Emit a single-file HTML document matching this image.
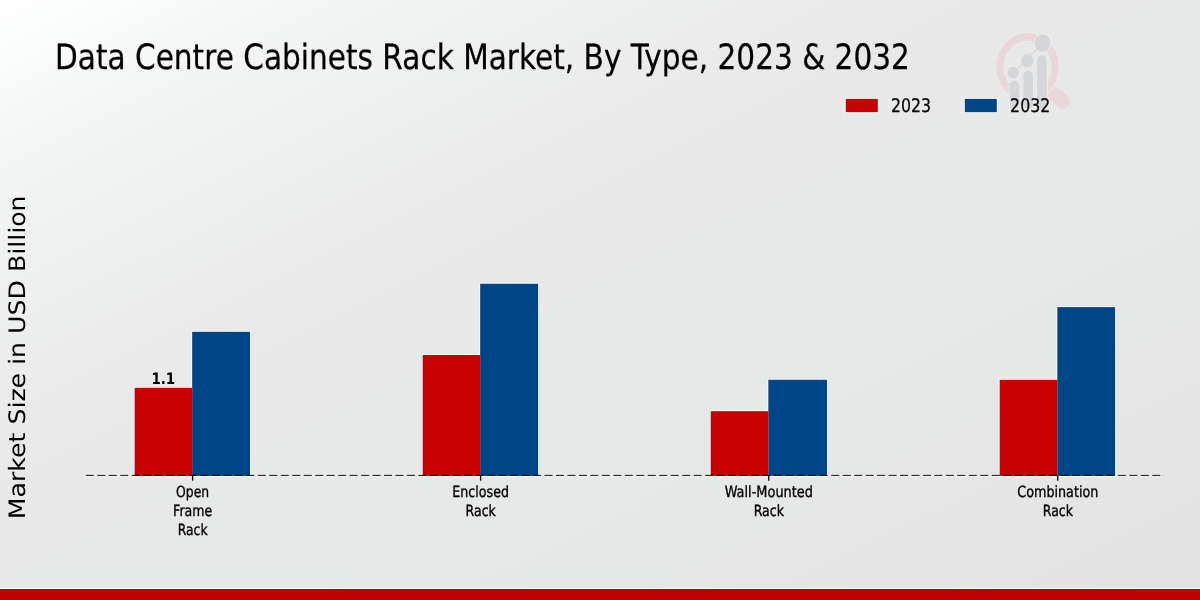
<!DOCTYPE html>
<html lang="en">
<head>
<meta charset="utf-8">
<title>Data Centre Cabinets Rack Market, By Type, 2023 &amp; 2032</title>
<style>
html,body{margin:0;padding:0;background:#e8e8e8;}
body{width:1200px;height:600px;overflow:hidden;position:relative;}
svg{position:absolute;left:0;top:0;display:block;}
text{font-family:'DejaVu Sans','Liberation Sans',sans-serif;text-rendering:geometricPrecision;}
</style>
</head>
<body>
<svg width="1200" height="600" viewBox="0 0 1200 600">
<defs>
<linearGradient id="bg" gradientUnits="objectBoundingBox" x1="0" y1="0" x2="1" y2="1">
<stop offset="0" stop-color="#ffffff"/>
<stop offset="0.033" stop-color="#fcfdfd"/>
<stop offset="0.1" stop-color="#f6f7f7"/>
<stop offset="0.158" stop-color="#f2f3f3"/>
<stop offset="0.29" stop-color="#eceded"/>
<stop offset="0.38" stop-color="#e9e9e9"/>
<stop offset="0.5" stop-color="#e7e8e8"/>
<stop offset="0.73" stop-color="#e6e7e7"/>
<stop offset="0.97" stop-color="#e3e3e3"/>
<stop offset="1" stop-color="#e3e3e3"/>
</linearGradient>
</defs>
<rect x="0" y="0" width="1200" height="600" fill="url(#bg)"/>

<clipPath id="ringclip"><path d="M-60,-60 H60 V60 H21.6 V8 H-19.8 V60 H-60 Z"/></clipPath>
<g id="logo" transform="translate(1027.5,66.9) scale(0.92,1)">
<line x1="29.5" y1="27.5" x2="38.6" y2="34.8" stroke="#e8d6d8" stroke-width="14.5" stroke-linecap="round"/>
<circle cx="0" cy="0" r="30.05" fill="none" stroke="#ebebeb" stroke-width="10.3"/>
<g clip-path="url(#ringclip)"><circle cx="0" cy="0" r="30.05" fill="none" stroke="#e8d6d8" stroke-width="7.9"/></g>
<g fill="#ebebeb" stroke="#ebebeb" stroke-width="2">
<rect x="-19.3" y="13.6" width="10.4" height="28.5" rx="5.2"/>
<rect x="-4.6" y="3.6" width="10.6" height="38.5" rx="5.3"/>
<rect x="10.4" y="-11.8" width="10.6" height="53.9" rx="5.3"/>
<circle cx="16.3" cy="-23.9" r="8.8"/>
<circle cx="-0.3" cy="-6.1" r="6.8"/>
<circle cx="-15.4" cy="5.9" r="6.1"/>
</g>
<g fill="#d5d6d9">
<line x1="-15.4" y1="5.9" x2="16.3" y2="-23.9" stroke="#d5d6d9" stroke-width="1.3"/>
<rect x="-19.3" y="13.6" width="10.4" height="28.5" rx="5.2"/>
<rect x="-4.6" y="3.6" width="10.6" height="38.5" rx="5.3"/>
<rect x="10.4" y="-11.8" width="10.6" height="53.9" rx="5.3"/>
<circle cx="16.3" cy="-23.9" r="8.8"/>
<circle cx="-0.3" cy="-6.1" r="6.8"/>
<circle cx="-15.4" cy="5.9" r="6.1"/>
</g>
</g>

<text transform="translate(55.00,68.70) scale(0.8475,1)" font-size="34.9" text-anchor="start" font-weight="normal" fill="#000" stroke="#000" stroke-width="0.25" stroke-linejoin="round">Data Centre Cabinets Rack Market, By Type, 2023 &amp; 2032</text>
<rect x="845.8" y="98.9" width="32.0" height="13.25" fill="#c70000" stroke="#f2f7f7" stroke-width="2" paint-order="stroke"/>
<text transform="translate(890.90,112.00) scale(0.8450,1)" font-size="18.7" text-anchor="start" font-weight="normal" fill="#000" stroke="#000" stroke-width="0.25" stroke-linejoin="round">2023</text>
<rect x="964.8" y="98.9" width="32.0" height="13.25" fill="#004687" stroke="#f7f6f4" stroke-width="2" paint-order="stroke"/>
<text transform="translate(1010.10,112.00) scale(0.8450,1)" font-size="18.7" text-anchor="start" font-weight="normal" fill="#000" stroke="#000" stroke-width="0.25" stroke-linejoin="round">2032</text>
<text transform="translate(25.0,357.3) rotate(-90) scale(1,0.898)" font-size="25.2" text-anchor="middle" fill="#000">Market Size in USD Billion</text>
<line x1="85.35" y1="475.35" x2="1163.2" y2="475.35" stroke="#f1f2f2" stroke-width="2.8" stroke-dasharray="9.05 2.417"/>
<g fill="none" stroke-width="2.2" stroke-linecap="square"><path d="M134.67,476.2 H250.0" stroke="#f7f8f8"/><path d="M250.0,475.9 V331.83" stroke="#efeeed"/><path d="M134.67,475.9 V387.83" stroke="#ebf1f1"/><path d="M134.67,387.83 H192.17" stroke="#eff9f9"/><path d="M192.17,387.83 V331.83 H250.0" stroke="#faf7f4"/></g>
<g fill="none" stroke-width="2.2" stroke-linecap="square"><path d="M422.73,476.2 H538.07" stroke="#f7f8f8"/><path d="M538.07,475.9 V283.75" stroke="#efeeed"/><path d="M422.73,475.9 V355.0" stroke="#ebf1f1"/><path d="M422.73,355.0 H480.17" stroke="#eff9f9"/><path d="M480.17,355.0 V283.75 H538.07" stroke="#faf7f4"/></g>
<g fill="none" stroke-width="2.2" stroke-linecap="square"><path d="M710.73,476.2 H827.0" stroke="#f7f8f8"/><path d="M827.0,475.9 V379.75" stroke="#efeeed"/><path d="M710.73,475.9 V411.17" stroke="#ebf1f1"/><path d="M710.73,411.17 H768.33" stroke="#eff9f9"/><path d="M768.33,411.17 V379.75 H827.0" stroke="#faf7f4"/></g>
<g fill="none" stroke-width="2.2" stroke-linecap="square"><path d="M999.73,476.2 H1115.07" stroke="#f7f8f8"/><path d="M1115.07,475.9 V307.1" stroke="#efeeed"/><path d="M999.73,475.9 V379.83" stroke="#ebf1f1"/><path d="M999.73,379.83 H1057.33" stroke="#eff9f9"/><path d="M1057.33,379.83 V307.1 H1115.07" stroke="#faf7f4"/></g>
<rect x="134.67" y="387.83" width="57.50" height="88.07" fill="#c70000"/>
<rect x="192.17" y="331.83" width="57.83" height="144.07" fill="#004687"/>
<rect x="422.73" y="355.0" width="57.44" height="120.90" fill="#c70000"/>
<rect x="480.17" y="283.75" width="57.90" height="192.15" fill="#004687"/>
<rect x="710.73" y="411.17" width="57.60" height="64.73" fill="#c70000"/>
<rect x="768.33" y="379.75" width="58.67" height="96.15" fill="#004687"/>
<rect x="999.73" y="379.83" width="57.60" height="96.07" fill="#c70000"/>
<rect x="1057.33" y="307.1" width="57.74" height="168.80" fill="#004687"/>
<text transform="translate(163.30,384.40) scale(0.8580,1)" font-size="15.7" text-anchor="middle" font-weight="bold" fill="#000">1.1</text>
<line x1="85.85" y1="475.35" x2="1164.0" y2="475.35" stroke="#0a0a0a" stroke-width="1.0" stroke-dasharray="8.05 3.417"/>
<line x1="192.60" y1="475.4" x2="192.60" y2="480.7" stroke="#000" stroke-width="1.3"/>
<text transform="translate(192.65,497.40) scale(0.8050,1)" font-size="15.4" text-anchor="middle" font-weight="normal" fill="#000" stroke="#000" stroke-width="0.35" stroke-linejoin="round">Open</text>
<text transform="translate(192.65,516.40) scale(0.8160,1)" font-size="15.4" text-anchor="middle" font-weight="normal" fill="#000" stroke="#000" stroke-width="0.35" stroke-linejoin="round">Frame</text>
<text transform="translate(192.65,534.70) scale(0.8000,1)" font-size="15.4" text-anchor="middle" font-weight="normal" fill="#000" stroke="#000" stroke-width="0.35" stroke-linejoin="round">Rack</text>
<line x1="480.60" y1="475.4" x2="480.60" y2="480.7" stroke="#000" stroke-width="1.3"/>
<text transform="translate(480.65,497.40) scale(0.8220,1)" font-size="15.4" text-anchor="middle" font-weight="normal" fill="#000" stroke="#000" stroke-width="0.35" stroke-linejoin="round">Enclosed</text>
<text transform="translate(480.65,516.40) scale(0.8120,1)" font-size="15.4" text-anchor="middle" font-weight="normal" fill="#000" stroke="#000" stroke-width="0.35" stroke-linejoin="round">Rack</text>
<line x1="768.75" y1="475.4" x2="768.75" y2="480.7" stroke="#000" stroke-width="1.3"/>
<text transform="translate(768.80,497.40) scale(0.8390,1)" font-size="15.4" text-anchor="middle" font-weight="normal" fill="#000" stroke="#000" stroke-width="0.35" stroke-linejoin="round">Wall-Mounted</text>
<text transform="translate(768.80,516.40) scale(0.8120,1)" font-size="15.4" text-anchor="middle" font-weight="normal" fill="#000" stroke="#000" stroke-width="0.35" stroke-linejoin="round">Rack</text>
<line x1="1057.75" y1="475.4" x2="1057.75" y2="480.7" stroke="#000" stroke-width="1.3"/>
<text transform="translate(1057.80,497.40) scale(0.8280,1)" font-size="15.4" text-anchor="middle" font-weight="normal" fill="#000" stroke="#000" stroke-width="0.35" stroke-linejoin="round">Combination</text>
<text transform="translate(1057.80,516.40) scale(0.8100,1)" font-size="15.4" text-anchor="middle" font-weight="normal" fill="#000" stroke="#000" stroke-width="0.35" stroke-linejoin="round">Rack</text>
<rect x="0" y="588" width="1200" height="1" fill="#f4f8f8"/>
<rect x="0" y="589" width="1200" height="11" fill="#c00000"/>
</svg>
</body>
</html>
